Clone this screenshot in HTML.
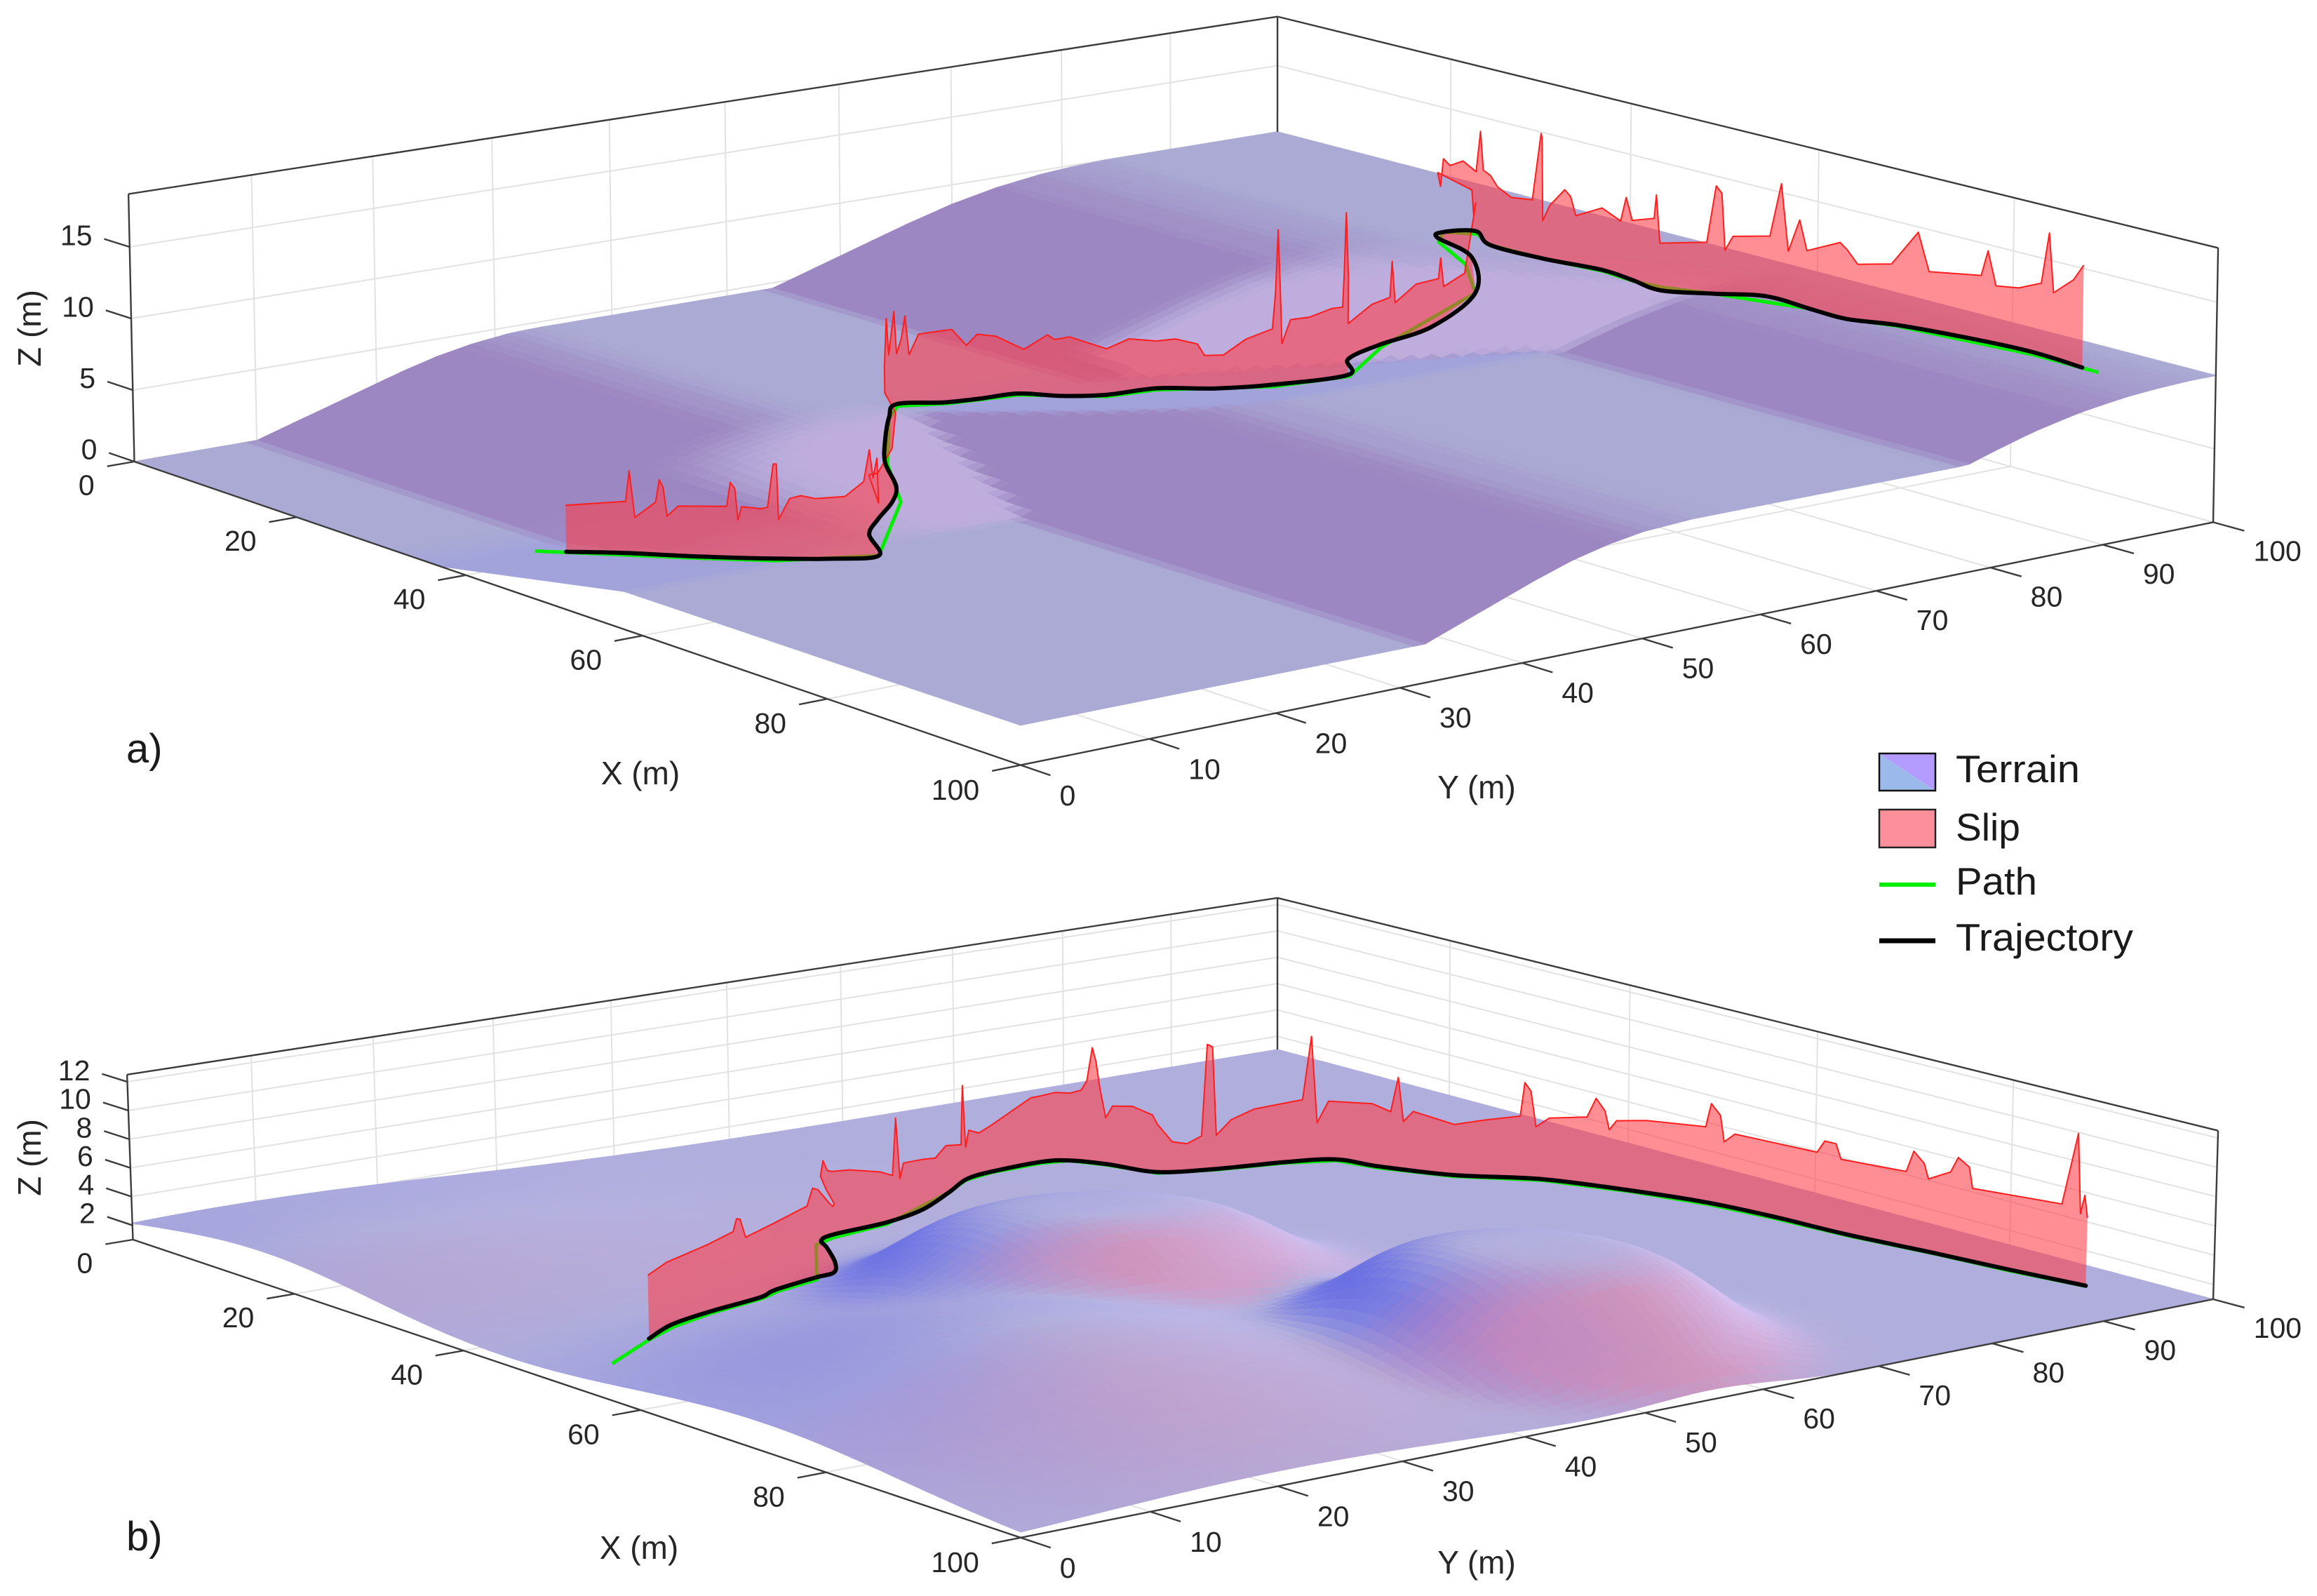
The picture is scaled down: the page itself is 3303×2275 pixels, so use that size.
<!DOCTYPE html>
<html lang="en">
<head>
<meta charset="utf-8">
<title>Terrain slip and trajectory 3D plots</title>
<style>
html,body{margin:0;padding:0;background:#fff}
svg{display:block}
text{font-family:"Liberation Sans",sans-serif;fill:#262626}
.tick{font-size:41px}
.title{font-size:46px}
.panel{font-size:58px;fill:#1a1a1a}
.leg{font-size:55px;fill:#1a1a1a}
</style>
</head>
<body>
<svg id="chart" xmlns="http://www.w3.org/2000/svg" width="3303" height="2275" viewBox="0 0 3303 2275">
  <rect width="3303" height="2275" fill="#fff"/>
  <g id="panelA"></g>
  <g id="panelB"></g>

  <text class="title" x="913" y="1118" text-anchor="middle">X (m)</text>
  <text class="title" x="2105" y="1138" text-anchor="middle">Y (m)</text>
  <text class="title" transform="translate(58,468) rotate(-90)" text-anchor="middle">Z (m)</text>
  <text class="title" x="911" y="2222" text-anchor="middle">X (m)</text>
  <text class="title" x="2105" y="2243" text-anchor="middle">Y (m)</text>
  <text class="title" transform="translate(58,1650) rotate(-90)" text-anchor="middle">Z (m)</text>
  <text class="panel" x="180" y="1087">a)</text>
  <text class="panel" x="180" y="2210">b)</text>

  <g>
    <g>
      <polygon points="2679,1074 2759,1127 2679,1127" fill="#9bb9eb"/>
      <polygon points="2679,1074 2759,1074 2759,1127" fill="#b49bff"/>
      <rect x="2679" y="1074" width="80" height="53" fill="none" stroke="#111" stroke-width="2.5"/>
      <text class="leg" x="2788" y="1115" textLength="177" lengthAdjust="spacingAndGlyphs">Terrain</text>
    </g>
    <g>
      <rect x="2679" y="1154" width="80" height="54" fill="#fd8f9b" stroke="#222" stroke-width="2.5"/>
      <text class="leg" x="2788" y="1198" textLength="92" lengthAdjust="spacingAndGlyphs">Slip</text>
    </g>
    <g>
      <line x1="2679" y1="1261" x2="2759" y2="1261" stroke="#00ee00" stroke-width="6"/>
      <text class="leg" x="2788" y="1275" textLength="116" lengthAdjust="spacingAndGlyphs">Path</text>
    </g>
    <g>
      <line x1="2679" y1="1341" x2="2759" y2="1341" stroke="#000" stroke-width="7"/>
      <text class="leg" x="2788" y="1355" textLength="253" lengthAdjust="spacingAndGlyphs">Trajectory</text>
    </g>
  </g>
</svg>

<script>
// ---- axis tick values ----
const xTicks = [0,20,40,60,80,100];
const yTicks = [0,10,20,30,40,50,60,70,80,90,100];
const zTicksA = [0,5,10,15];
const zTicksB = [2,4,6,8,10,12];

// ---- panel a terrain: height profiles along Y, joined by a ramp across X ----
const terrainAY = [0,5,10,13,16,19,22,25,28,31,32,34,35,38,41,44,47,50,54,58,62,66,70,74,78,81,84,87,90,93.6,97,100];
const terrainALowZ = [0,0,0,0.77,1.53,2.3,3.07,3.74,4.22,4.51,4.56,4.6,4.6,4.6,4.6,4.6,4.6,4.6,4.6,4.6,4.6,4.6,4.6,4.6,4.6,4.6,4.6,4.6,4.6,4.6,4.6,4.6];
const terrainAUpperZ = [0,0,0,0,0,0,0,0,0,0,0,0,0,0,0,0,0,0,4.6,5.62,6.64,7.66,8.57,9.25,9.7,9.89,10,10,10,10,10,10];
const terrainAHighZ = [2.5,2.5,2.5,2.5,2.5,2.5,2.5,2.5,2.5,2.5,2.5,3.1,3.4,4.3,5.2,6.0,6.59,6.99,7.19,7.2,7.2,7.2,7.2,7.2,7.2,7.2,7.2,7.2,7.2,7.2,7.2,7.2];
const terrainARampStartX = 37;
const terrainARampSpanX = 21;
const terrainABlendMaxY = 32;
const terrainARampDown = 0.098;
const terrainARampUp = 0.125;
const terrainAUpperShift = 0.65;

// ---- panel b terrain: hills ----
const hillBX = [52,82,73,16];
const hillBY = [42.5,56,21,8];
const hillBH = [5.3,6.4,5,2.4];
const hillBRX = [12.5,14.5,21,20];
const hillBRY = [15.5,13,21,26];
const hillBP = [4,4,2,2];

// ---- panel a series ----
const trajAX = [45.5,48.2,52.0,55.4,57.8,58.9,54.6,52.6,50.3,48.3,44.0,40.6,36.5,35.5,37.1,37.7,38.1,40.5,42.1,42.7,45.2,46.8,47.6,45.6,45.2,46.5,45.3,41.5,35.2,34.0,35.2,39.3,44.9,50.2,53.9,57.7,60.7,63.5,68.3,72.2,75.8,82.0,87.4,92.8];
const trajAY = [4.2,7.1,10.4,13.9,16.9,19.7,22.1,24.3,27.2,29.0,31.3,33.8,37.2,38.6,41.5,44.1,47.0,48.9,51.5,55.4,58.5,62.5,68.2,69.8,72.9,76.5,81.4,84.2,86.3,87.8,89.8,87.7,87.8,88.7,88.3,87.7,89.9,92.2,92.0,91.9,93.4,94.6,95.1,94.6];
const trajAZ = [2,2,2,2,2,2,2.2,2.5,2.8,3.2,3.6,4,4.5,5,5,5,5,5,5,5,5,5,5,5.5,6,7,8.5,10,10,10,10,10,10,10,10,10,10,10,10,10,10,10,10,10];
const pathAX = [44.1,52.3,55.9,58.9,50.7,44.4,36.9,36.0,37.5,38.4,42.5,43.0,47.2,48.0,45.8,45.3,43.0,36.3,34.0,36.0,39.0,45.0,50.6,54.3,57.0,60.7,68.3,72.2,76.0,88.0,94.5];
const pathAY = [2.7,10.1,13.6,19.7,27.6,31.2,36.9,38.3,41.4,46.7,51.2,55.0,62.0,68.0,72.6,81.4,82.4,85.5,87.8,89.3,87.7,87.8,88.5,88.1,88.4,89.9,92.0,91.9,93.2,94.6,94.5];
const pathAZ = [2,2,2,2,2.8,3.6,4.5,5,5,5,5,5,5,5,6,8.5,10,10,10,10,10,10,10,10,10,10,10,10,10,10,10];
const slipAT = [0,1,1.05,1.12,1.3,1.4,1.45,1.5,1.55,1.7,2.35,2.4,2.46,2.5,2.55,2.8,2.9,2.98,3.03,3.06,3.25,3.44,3.69,4.25,4.67,4.8,4.88,4.97,5,6,7,8,9,10,11,11.5,12,12.7,13,13.1,13.18,13.26,13.46,14,14.2,14.6,14.9,15.4,16.13,16.67,16.83,17.17,18,18.44,19,19.31,19.69,19.81,20.13,20.5,20.94,20.99,21.03,21.06,21.08,21.2,21.46,21.77,21.92,21.94,21.97,22,23,23.76,24.2,24.24,24.3,24.7,25.15,25.2,25.27,25.75,26,26.5,27,28,28.5,29,29.2,29.6,30,30.3,30.5,31,31.14,31.4,31.8,31.96,31.98,32,32.12,32.37,32.47,32.56,33,33.62,33.8,34,34.75,34.82,34.95,35.86,36.03,36.14,36.21,36.36,37.08,37.33,37.5,37.75,37.92,38.8,39,39.2,39.85,40.25,40.4,41.12,41.23,41.37,41.75,42.15,42.3,42.4,42.8,43];
const slipAH = [3.1,3.45,5.5,2.4,3.1,3.5,5.0,4.5,2.6,3.3,3.4,5.0,4.6,2.5,3.4,3.3,3.4,6.3,6.3,2.6,4,4.2,4,4.1,5,7.1,5.2,6.5,3.5,4,3.1,3.6,5,4.8,5.2,7.7,4.3,6.7,3.5,4.5,6.1,3.4,4.8,5,5,3.8,4.5,4.2,3.1,4.2,3.9,4.1,3.2,3.7,3.3,3.45,3.1,2.3,2.3,3.3,3.9,6.4,10.8,6.4,2.8,4.4,4.4,4.8,4.8,6.9,11.4,6.8,2.5,3.1,3.1,5.6,2.6,3.4,3.05,4.4,2.2,2,6.4,4.2,4.8,4.7,3.5,5.3,4.8,5.1,4.3,7.5,4.9,5,4.3,3.8,4,8.9,8.6,2.7,3.9,5.2,4.8,3.5,4.4,3.9,5.7,4.2,4.9,6.6,3.3,3.6,7.6,7.1,3.1,4.1,4.3,8.2,3.6,6,4,5.2,4.8,3.9,4.2,6.7,4.1,4.5,6.3,4,4.2,4.9,8.5,4.5,5.8,7];

// ---- panel b series ----
const trajBX = [51.5,49.3,47.9,46.7,45.6,44.4,44.0,41.7,37.9,35.9,35.0,34.4,32.8,29.7,27.2,26.4,26.1,27.0,29.2,32.9,34.3,35.2,36.4,40.0,45.3,50.0,56.5,62.3,68.3,75.5,83.3,89.9,96.5];
const trajBY = [6.7,10.0,14.0,19.0,21.0,25.2,27.0,28.8,30.9,31.9,33.7,38.4,42.7,47.3,50.7,53.5,58.0,59.9,61.5,63.0,67.1,72.4,76.1,77.1,79.5,83.5,86.1,87.8,88.6,89.0,90.0,90.7,91.6];
const trajBZ = [3,3,3,3,3,3,3,3,3,3,3,3,3,3,3,3,3,3,2.9,2.8,2.7,2.6,2.5,2.5,2.5,2.5,2.5,2.5,2.5,2.5,2.5,2.5,2.5];
const pathBX = [55.5,51.7,49.8,48.3,47.0,46.0,44.9,43.3,36.8,35.8,34.8,29.8,27.4,26.6,26.4,27.0,29.3,33.2,34.5,35.4,36.7,40.3,45.5,50.3,56.8,62.8,68.6,75.8,83.6,90.2,96.5];
const pathBY = [1.0,6.6,9.9,13.9,19.0,21.0,25.0,26.1,30.8,33.0,38.2,47.1,50.5,53.3,57.8,59.8,61.3,62.8,67.0,72.2,75.9,76.8,79.2,83.3,85.9,87.5,88.3,88.8,89.9,90.5,91.5];
const pathBZ = [3,3,3,3,3,3,3,3,3,3,3,3,3,3,3,3,2.9,2.8,2.7,2.6,2.5,2.5,2.5,2.5,2.5,2.5,2.5,2.5,2.5,2.5,2.5];
const slipBT = [0,0.85,2,2.5,2.57,2.64,2.74,4,4.82,4.96,5.2,5.8,6,7,8,9,9.2,9.5,9.8,10.3,10.9,11.2,11.3,11.4,11.5,12,12.5,12.9,13.7,13.8,13.95,14.1,14.5,15,15.8,16,16.5,17,17.3,17.45,17.6,17.7,17.8,17.95,18.1,18.5,18.9,19,19.25,19.5,19.75,19.85,19.94,20,20.22,20.56,21.36,21.53,21.64,21.86,22.83,23.15,23.25,23.32,23.45,24,24.33,24.75,24.8,24.87,24.93,25.08,25.5,25.6,25.7,25.75,25.83,26.2,27,27.08,27.22,27.28,27.44,28.6,28.7,28.85,28.92,29.67,29.75,29.87,29.92,30.2,30.3,30.45,30.5,31.67,31.86,31.91,31.96,32];
const slipBH = [4.2,4.3,4.5,4.9,5.7,5.6,4.3,4.5,5,6.1,5.9,4.8,4.5,4,4,4.4,5.4,4.6,4.4,4.2,3.6,3.1,7,2.7,3.7,3.5,3,3.4,2.7,6.8,2.3,3.4,3,3.3,4.7,4.7,4.9,4.8,5.1,5.8,8.2,7.2,5.3,3.3,4.2,4.4,4,3.4,2.1,1.9,2.4,8.9,8.7,2.4,3.4,4,4.4,8.9,2.7,4.2,4.4,4,6.5,3.4,4.2,3.6,4,4.4,6.8,6.2,3.7,4.4,4.8,6.2,5.4,4.1,4.8,5.1,5.3,7,6.3,4.5,5.2,5.2,6.1,6.1,5.1,5.2,6.7,6,5,5.8,6.9,6.4,5,5.2,10.2,4.8,6.1,4.6];

const SVGNS = 'http://www.w3.org/2000/svg';
function make(tag, attrs, parent){
  const el = document.createElementNS(SVGNS, tag);
  for (const k in attrs) el.setAttribute(k, attrs[k]);
  parent.appendChild(el);
  return el;
}
function camera(L,F,R,B,zMin,zMax,kz,lean){
  const dx1=F[0]-R[0],dx2=B[0]-R[0],sx=L[0]-F[0]+R[0]-B[0];
  const dy1=F[1]-R[1],dy2=B[1]-R[1],sy=L[1]-F[1]+R[1]-B[1];
  const den=dx1*dy2-dx2*dy1;
  const g=(sx*dy2-dx2*sy)/den, h=(dx1*sy-sx*dy1)/den;
  const a=F[0]-L[0]+g*F[0], b=B[0]-L[0]+h*B[0], c=L[0];
  const d=F[1]-L[1]+g*F[1], e=B[1]-L[1]+h*B[1], f=L[1];
  return function(X,Y,Z){
    const x=X/100,y=Y/100,w=1+g*x+h*y;
    const u=(a*x+b*y+c)/w, v=(d*x+e*y+f)/w, t=Z-zMin;
    return [u+(u-1800)*lean*t/(zMax-zMin), v-t*kz/w];
  };
}
function interp(xs,ys,x){
  if (x<=xs[0]) return ys[0];
  for (let i=1;i<xs.length;i++){
    if (x<=xs[i]) return ys[i-1]+(ys[i]-ys[i-1])*(x-xs[i-1])/(xs[i]-xs[i-1]);
  }
  return ys[ys.length-1];
}
function clamp(v,a,b){return Math.max(a,Math.min(b,v));}
function terrainA(X,Y){
  const low=interp(terrainAY,terrainALowZ,Y), high=interp(terrainAY,terrainAHighZ,Y);
  const run=X-terrainARampStartX;
  let lower=low;
  if (run>0){
    if (Y<=terrainABlendMaxY) lower=low+(high-low)*Math.min(1,run/terrainARampSpanX);
    else lower = low>high ? Math.max(high,low-run*terrainARampDown) : Math.min(high,low+run*terrainARampUp);
  }
  const shift=terrainAUpperShift*clamp(run,0,terrainARampSpanX);
  return Math.max(lower,interp(terrainAY,terrainAUpperZ,Y-shift));
}
function terrainB(X,Y){
  let z=1;
  for (let i=0;i<hillBX.length;i++){
    const dx=(X-hillBX[i])/hillBRX[i], dy=(Y-hillBY[i])/hillBRY[i];
    z+=hillBH[i]*Math.exp(-Math.pow(dx*dx+dy*dy,hillBP[i]/2));
  }
  return z;
}
function rgb(c){
  const f=v=>clamp(Math.round(v),0,255);
  return 'rgb('+f(c[0])+','+f(c[1])+','+f(c[2])+')';
}
function mix(a,b,t){return [a[0]+(b[0]-a[0])*t,a[1]+(b[1]-a[1])*t,a[2]+(b[2]-a[2])*t];}
function shadeARaw(X,Y){
  const dzy=(terrainA(X,Y+1.2)-terrainA(X,Y-1.2))/2.4;
  const ex=Math.max(X,39);
  const dzxRaw=(terrainA(ex+1,Y)-terrainA(ex-1,Y))/2;
  const fade=clamp((X-30)/12,0,1);
  const sx=dzxRaw*fade*fade*(3-2*fade);
  const lil=clamp(-sx/0.07,0,1), blu=clamp(sx/0.07,0,1);
  const pur=clamp(dzy/0.15,0,1);
  let c=[170,170,212];
  c=mix(c,[157,135,194],pur*(1-lil));
  c=mix(c,[190,173,221],lil);
  c=mix(c,[156,158,224],blu*0.55*(1-pur*0.7));
  return c;
}
function shadeA(X,Y){
  const o=0.27;
  const s=[shadeARaw(X-o,Y-o),shadeARaw(X+o,Y-o),shadeARaw(X-o,Y+o),shadeARaw(X+o,Y+o)];
  return rgb([0,1,2].map(i=>(s[0][i]+s[1][i]+s[2][i]+s[3][i])/4));
}
function shadeB(X,Y){
  const d=1.5;
  const dzx=(terrainB(X+d,Y)-terrainB(X-d,Y))/(2*d);
  const dzy=(terrainB(X,Y+d)-terrainB(X,Y-d))/(2*d);
  const sy=clamp(dzy/0.6,-1,1), sx=clamp(dzx/0.45,-1,1);
  const byRaw=Math.max(sy,0), ly=Math.max(-sy,0), px=Math.max(-sx,0), bx=Math.max(sx,0);
  const by=byRaw*(1-0.7*px);
  const k=Math.max(0,1-0.7*ly);
  return rgb([
    176-55*by+30*ly+30*px*k-32*bx,
    174-50*by+25*ly-25*px*k-28*bx,
    220+5*by+28*ly-30*px*k+4*bx
  ]);
}
function pts(list){return list.map(p=>p[0].toFixed(1)+','+p[1].toFixed(1)).join(' ');}
function smoothPath(list){
  let d='M'+list[0][0].toFixed(1)+' '+list[0][1].toFixed(1);
  for(let i=0;i<list.length-1;i++){
    const p0=list[Math.max(0,i-1)],p1=list[i],p2=list[i+1],p3=list[Math.min(list.length-1,i+2)];
    d+=' C'+(p1[0]+(p2[0]-p0[0])/6).toFixed(1)+' '+(p1[1]+(p2[1]-p0[1])/6).toFixed(1)+
       ' '+(p2[0]-(p3[0]-p1[0])/6).toFixed(1)+' '+(p2[1]-(p3[1]-p1[1])/6).toFixed(1)+
       ' '+p2[0].toFixed(1)+' '+p2[1].toFixed(1);
  }
  return d;
}

function drawPanel(root,cam,zMin,zMax,zTicks,surface,shade,n,trajX,trajY,trajZ,pathX,pathY,pathZ,slipT,slipH){
  // walls and floor grid
  const grid=make('g',{},root);
  
  
  const gridStyle={stroke:'#e2e2e2','stroke-width':2,fill:'none'};
  function gridLine(p,q){
    const a=cam(p[0],p[1],p[2]),b=cam(q[0],q[1],q[2]);
    const ln=make('line',Object.assign({x1:a[0],y1:a[1],x2:b[0],y2:b[1]},gridStyle),grid);
    
    
  }
  yTicks.forEach(y=>{
    if(y>0&&y<100){gridLine([0,y,zMin],[0,y,zMax]);gridLine([0,y,zMin],[100,y,zMin]);}
  });
  xTicks.forEach(x=>{
    if(x>0&&x<100){gridLine([x,100,zMin],[x,100,zMax]);gridLine([x,100,zMin],[x,0,zMin]);}
  });
  zTicks.forEach(z=>{
    gridLine([0,0,z],[0,100,z]);
    gridLine([0,100,z],[100,100,z]);
  });
  // terrain mesh
  const terr=make('g',{},root);
  
  
  for(let i=0;i<n;i++){
    const x0=i*100/n,x1=(i+1)*100/n;
    for(let j=n-1;j>=0;j--){
      const y0=j*100/n,y1=(j+1)*100/n;
      const col=shade((x0+x1)/2,(y0+y1)/2);
      const poly=make('polygon',{
        points:pts([cam(x0,y0,surface(x0,y0)),cam(x1,y0,surface(x1,y0)),cam(x1,y1,surface(x1,y1)),cam(x0,y1,surface(x0,y1))]),
        fill:col,stroke:col,'stroke-width':1.3,'stroke-linejoin':'round'},terr);
      
      
    }
  }
  // box edges
  const box=make('g',{stroke:'#3c3c3c','stroke-width':2.4,fill:'none'},root);
  
  
  function edge(p,q,name){
    const a=cam(p[0],p[1],p[2]),b=cam(q[0],q[1],q[2]);
    const ln=make('line',{x1:a[0],y1:a[1],x2:b[0],y2:b[1]},box);
    
    
  }
  edge([0,0,zMin],[100,0,zMin],'x-axis-line');
  edge([100,0,zMin],[100,100,zMin],'y-axis-line');
  edge([0,0,zMin],[0,0,zMax],'z-axis-line');
  edge([100,100,zMin],[100,100,zMax],'right-edge');
  edge([0,0,zMax],[0,100,zMax],'top-left-edge');
  edge([0,100,zMax],[100,100,zMax],'top-right-edge');
  const backTop=cam(0,100,zMax),backBot=cam(0,100,surface(0,100));
  const backLine=make('line',{x1:backTop[0],y1:backTop[1],x2:backBot[0],y2:backBot[1]},box);
  
  
  // ticks and labels
  const ticks=make('g',{},root);
  
  
  function tick(p,q){
    const a=cam(p[0],p[1],p[2]),b=cam(q[0],q[1],q[2]);
    const ln=make('line',{x1:a[0],y1:a[1],x2:b[0],y2:b[1],stroke:'#3c3c3c','stroke-width':2.4},ticks);
    
    
    return b;
  }
  function label(x,y,str,anchor,name){
    const t=make('text',{x:x,y:y,'text-anchor':anchor,class:'tick'},ticks);
    t.textContent=str;
    
    
  }
  xTicks.forEach(x=>{
    const e=tick([x,0,zMin],[x,-2.2,zMin]);
    label(e[0]-18,e[1]+41,String(x),'end','x-tick-label');
  });
  yTicks.forEach(y=>{
    const e=tick([100,y,zMin],[103,y,zMin]);
    label(e[0]+13,e[1]+43,String(y),'start','y-tick-label');
  });
  zTicks.forEach(z=>{
    const e=tick([0,0,z],[-3.2,0,z]);
    label(e[0]-17,e[1]+9,String(z),'end','z-tick-label');
  });
  // path
  const pathPts=pathX.map((x,i)=>cam(x,pathY[i],pathZ[i]));
  const pathLine=make('polyline',{points:pts(pathPts),fill:'none',stroke:'#00ee00','stroke-width':5,'stroke-linejoin':'round'},root);
  
  
  // slip ribbon
  function trajAt(t){
    const i=Math.min(trajX.length-2,Math.floor(t)),f=t-i;
    return [trajX[i]+(trajX[i+1]-trajX[i])*f,trajY[i]+(trajY[i+1]-trajY[i])*f,trajZ[i]+(trajZ[i+1]-trajZ[i])*f];
  }
  const topPts=slipT.map((t,i)=>{const p=trajAt(t);return cam(p[0],p[1],p[2]+slipH[i]);});
  const basePts=[];
  for(let i=trajX.length-1;i>=0;i--){
    if(i>=slipT[0]&&i<=slipT[slipT.length-1]) basePts.push(cam(trajX[i],trajY[i],trajZ[i]));
  }
  const ribbon=make('polygon',{points:pts(topPts.concat(basePts)),fill:'rgb(255,60,70)','fill-opacity':0.58,stroke:'none'},root);
  
  
  const slipLine=make('polyline',{points:pts(topPts),fill:'none',stroke:'#ff1e1e','stroke-width':2,'stroke-linejoin':'round'},root);
  
  
  // trajectory
  const trajPts=trajX.map((x,i)=>cam(x,trajY[i],trajZ[i]));
  const trajLine=make('path',{d:smoothPath(trajPts),fill:'none',stroke:'#000','stroke-width':6,'stroke-linejoin':'round','stroke-linecap':'round'},root);
  
  
}

const camA=camera([191.5,658],[1455,1090.6],[3155,744.4],[1821,377],0,18.7,20.4,0.0052);
const camB=camera([189.5,1767],[1455,2191.8],[3155,1852],[1821,1496],1,12.5,20.45,0.0052);
drawPanel(document.getElementById('panelA'),camA,0,18.7,zTicksA,terrainA,shadeA,100,trajAX,trajAY,trajAZ,pathAX,pathAY,pathAZ,slipAT,slipAH);
drawPanel(document.getElementById('panelB'),camB,1,12.5,zTicksB,terrainB,shadeB,100,trajBX,trajBY,trajBZ,pathBX,pathBY,pathBZ,slipBT,slipBH);
</script>
</body>
</html>
